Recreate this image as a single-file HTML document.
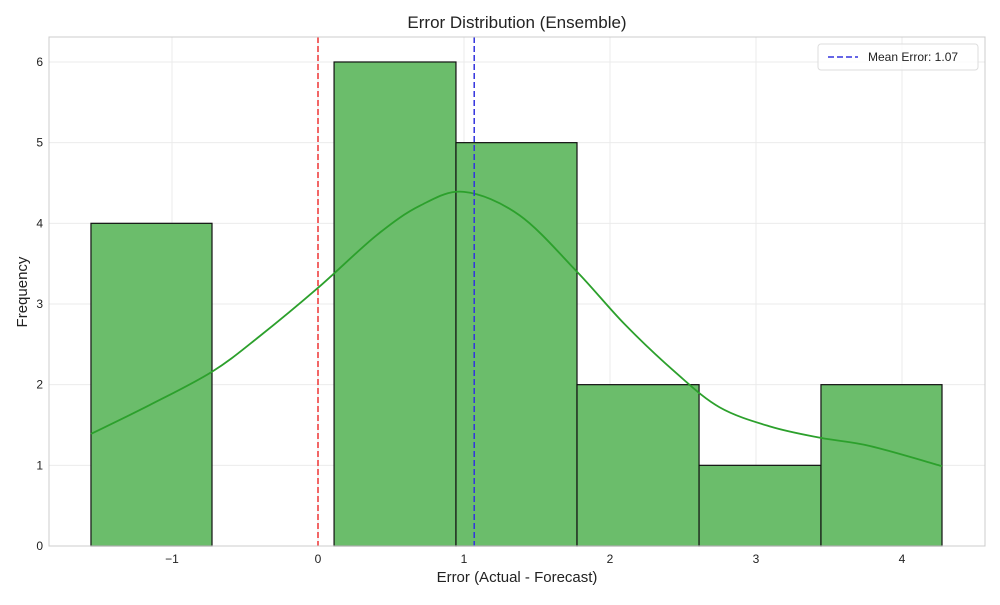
<!DOCTYPE html>
<html><head><meta charset="utf-8"><style>
body{margin:0;background:#fff;font-family:"Liberation Sans",sans-serif}
svg text{font-family:"Liberation Sans",sans-serif}
</style></head><body>
<svg id="chart" width="1000" height="600" xmlns="http://www.w3.org/2000/svg">
<text x="517" y="28" font-size="17" text-anchor="middle" fill="#222">Error Distribution (Ensemble)</text>
<g id="grid"></g>
<g id="bars"></g>
<g id="kde"></g>
<g id="lines"></g>
<rect x="49" y="37" width="936" height="509" fill="none" stroke="#ccc"/>
<g id="ticks"></g>
<text x="517" y="582" font-size="15" text-anchor="middle" fill="#222">Error (Actual - Forecast)</text>
<text x="27" y="292" font-size="15" text-anchor="middle" fill="#222" transform="rotate(-90 27 292)">Frequency</text>
<g>
<rect x="818" y="44" width="160" height="26" fill="#fff" fill-opacity="0.8" stroke="#ddd" rx="3"/>
<line x1="828" y1="57" x2="858" y2="57" stroke="#3333dd" stroke-width="1.5" stroke-dasharray="6,3"/>
<text x="868" y="61" font-size="12" fill="#222">Mean Error: 1.07</text>
</g>
</svg>
<script>
const binEdges=[-1.555,-0.726,0.11,0.945,1.774,2.61,3.445,4.274];
const counts=[4,0,6,5,2,1,2];
const kdeX=[-1.555,-1.15,-0.726,-0.4,0,0.4,0.7,1.0,1.38,1.774,2.1,2.45,2.75,3.1,3.445,3.78,4.274];
const kdeY=[1.39,1.75,2.16,2.6,3.2,3.85,4.22,4.39,4.1,3.4,2.75,2.15,1.72,1.48,1.34,1.24,0.99];
const xTicks=[-1,0,1,2,3,4];
const xTickLabels=["\u22121","0","1","2","3","4"];
const yTicks=[0,1,2,3,4,5,6];
const meanError=1.07, zeroLine=0;
const X=v=>318+v*146, Y=v=>546-v*80.67;
const ns="http://www.w3.org/2000/svg";
function mk(p,t,a){const e=document.createElementNS(ns,t);for(const k in a)e.setAttribute(k,a[k]);p.appendChild(e);return e;}
const g=document.getElementById('grid'),tk=document.getElementById('ticks');
xTicks.forEach((v,i)=>{const l=mk(g,'line',{x1:X(v),x2:X(v),y1:37,y2:546,stroke:'#ebebeb'});

const t=mk(tk,'text',{x:X(v),y:563,'font-size':12,'text-anchor':'middle',fill:'#222'});t.textContent=xTickLabels[i];
});
yTicks.forEach(v=>{const l=mk(g,'line',{x1:49,x2:985,y1:Y(v),y2:Y(v),stroke:'#ebebeb'});

const t=mk(tk,'text',{x:43,y:Y(v)+4,'font-size':12,'text-anchor':'end',fill:'#222'});t.textContent=v;
});
const b=document.getElementById('bars');
counts.forEach((c,i)=>{if(!c)return;const r=mk(b,'rect',{x:X(binEdges[i]),y:Y(c),width:X(binEdges[i+1])-X(binEdges[i]),height:Y(0)-Y(c),fill:'#6bbd6b',stroke:'#111','stroke-width':1.2});
});
const pts=kdeX.map((x,i)=>[X(x),Y(kdeY[i])]);
let d='M'+pts[0].join(',');
for(let i=0;i<pts.length-1;i++){const p0=pts[i-1]||pts[i],p1=pts[i],p2=pts[i+1],p3=pts[i+2]||p2;
d+=` C${p1[0]+(p2[0]-p0[0])/6},${p1[1]+(p2[1]-p0[1])/6} ${p2[0]-(p3[0]-p1[0])/6},${p2[1]-(p3[1]-p1[1])/6} ${p2[0]},${p2[1]}`;}
const k=mk(document.getElementById('kde'),'path',{d:d,fill:'none',stroke:'#2ca02c','stroke-width':1.8});

const L=document.getElementById('lines');
const z=mk(L,'line',{x1:X(zeroLine),x2:X(zeroLine),y1:37,y2:546,stroke:'#ee3333','stroke-width':1.5,'stroke-dasharray':'6,3'});

const m=mk(L,'line',{x1:X(meanError),x2:X(meanError),y1:37,y2:546,stroke:'#3333dd','stroke-width':1.5,'stroke-dasharray':'6,3'});

</script>
</body></html>
